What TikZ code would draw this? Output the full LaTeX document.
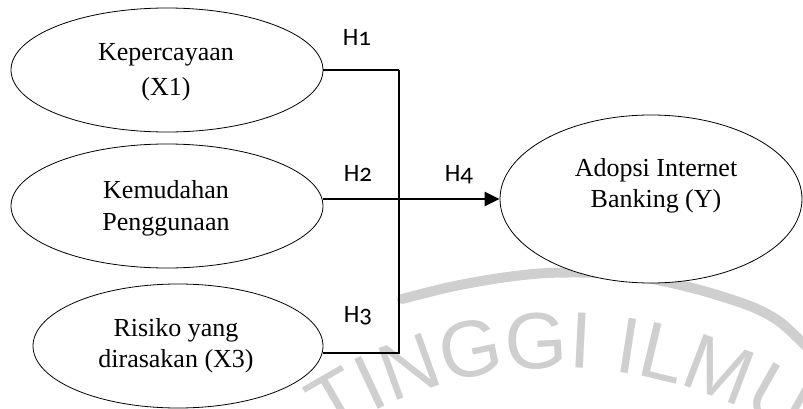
\documentclass[tikz,border=0pt]{standalone}
\usepackage{fontspec}
\setmainfont{Liberation Serif}
\newfontfamily\hfont[Numbers=OldStyle]{Carlito}
\newfontfamily\wmfont{Liberation Sans}
\usetikzlibrary{arrows.meta,decorations.text,shapes.geometric}
\begin{document}
\begin{tikzpicture}[x=1pt,y=-1pt,
  construct/.style={ellipse, draw, line width=0.8pt, fill=white, inner sep=0pt},
  lbl/.style={font=\fontsize{26}{31}\selectfont, align=center, inner sep=0pt},
  hyp/.style={font=\hfont\fontsize{25}{30}\selectfont, anchor=base, inner sep=0pt},
  wm/.style={gray!38},
]
\useasboundingbox (0,0) rectangle (803,409);
\clip (0,0) rectangle (803,409);
% watermark
\draw[wm, line width=10pt, line cap=round] plot[smooth] coordinates {(402,299) (450,287) (500,278) (547,273) (600,273) (647,278) (700,290) (750,306) (780,322) (810,350)};
\path[decorate, decoration={text along path, text align=center,
  text={|\wmfont\fontsize{80}{80}\selectfont\color{gray!38}|TINGGI ILMU}}]
  plot[domain=-50:50, samples=60, smooth] ({560+420*sin(\x)}, {788-420*cos(\x)});
% constructs
\node[construct, minimum width=312pt, minimum height=124pt] (e1) at (167,70) {};
\node[construct, minimum width=312pt, minimum height=124pt] (e2) at (167,206) {};
\node[construct, minimum width=290pt, minimum height=124pt] (e3) at (178,346) {};
\node[construct, minimum width=302pt, minimum height=168pt] (y) at (651,199) {};
\node[lbl] (t1) at (166,72) {Kepercayaan\\[4pt](X1)};
\node[lbl] (t2) at (166,208) {Kemudahan\\[1pt]Penggunaan};
\node[lbl] (t3) at (176,346) {Risiko yang\\dirasakan (X3)};
\node[lbl] (ty) at (656,186) {Adopsi Internet\\Banking (Y)};
% connectors
\coordinate (jt) at (399,70);
\coordinate (jb) at (399,353);
\draw[line width=1.5pt] (e1.east) -- (jt);
\draw[line width=2.2pt] (jt) -- (jb) -- (e3.east |- jb);
\draw[line width=2.8pt, -{Triangle[length=15pt,width=14pt]}] (e2.east |- y.west) -- (y.west);
% hypothesis labels
\node[hyp] (h1) at (357,46) {H1};
\node[hyp] (h2) at (358,182) {H2};
\node[hyp] (h3) at (358,322) {H3};
\node[hyp] (h4) at (459,182) {H4};
\end{tikzpicture}
\end{document}
